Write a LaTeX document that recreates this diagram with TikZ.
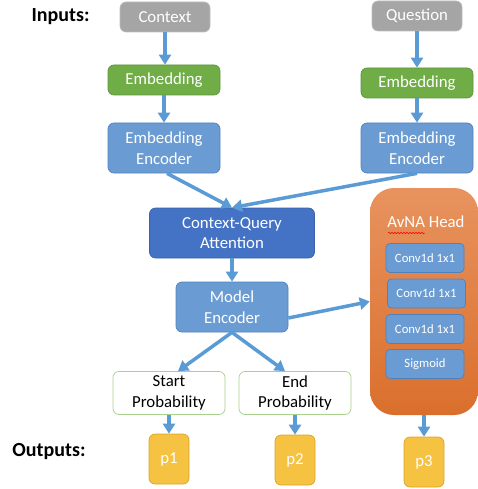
\documentclass[tikz,border=0pt]{standalone}
\usepackage{fontspec}
\setmainfont{Carlito}
\usetikzlibrary{arrows.meta,decorations.pathmorphing}
\definecolor{cgray}{HTML}{A5A5A5}
\definecolor{cgrayb}{HTML}{BDBDBD}
\definecolor{cgreen}{HTML}{70AD47}
\definecolor{cgreenb}{HTML}{5E9440}
\definecolor{clgreen}{HTML}{A9D18E}
\definecolor{cblue}{HTML}{6A9CD3}
\definecolor{cblueb}{HTML}{4F81BD}
\definecolor{cdblue}{HTML}{4472C4}
\definecolor{cdblueb}{HTML}{3A62AA}
\definecolor{cyel}{HTML}{F5C242}
\definecolor{cyelb}{HTML}{D9A52A}
\definecolor{carrow}{HTML}{5B9BD5}
\definecolor{otop}{HTML}{E8935F}
\definecolor{obot}{HTML}{DA6F2C}
\begin{document}
\begin{tikzpicture}[x=1pt,y=-1pt,
  box/.style={rounded corners=6pt, inner sep=0pt, align=center, text=white,
    font=\fontsize{16.8}{20.5}\selectfont, line width=0.7pt},
  graybox/.style={box, fill=cgray, draw=cgrayb, minimum width=90pt, minimum height=30pt},
  greenbox/.style={box, fill=cgreen, draw=cgreenb, minimum width=112pt, minimum height=30pt},
  encbox/.style={box, fill=cblue, draw=cblueb, minimum width=112pt, minimum height=50pt},
  probbox/.style={box, fill=white, draw=clgreen, text=black, minimum width=112pt, minimum height=43pt},
  outbox/.style={box, fill=cyel, draw=cyelb, minimum width=40pt, minimum height=50pt},
  convbox/.style={box, fill=cblue, draw=cblueb, rounded corners=4pt, minimum width=78pt, minimum height=29pt,
    font=\fontsize{12.7}{15}\selectfont},
  lbl/.style={font=\fontsize{20}{23}\selectfont\bfseries, inner sep=0pt},
  arr/.style={draw=carrow, line width=3.5pt, -{Triangle[width=12pt,length=10pt]}}
]
\useasboundingbox (0,0) rectangle (477,489);

% labels
\node[lbl] (inp) at (60.5,17) {Inputs:};
\node[lbl] (outp) at (49,452) {Outputs:};

% left column
\node[graybox] (ctx) at (165,17) {Context};
\node[greenbox] (emb1) at (164,80) {Embedding};
\node[encbox] (enc1) at (164,148) {Embedding\\Encoder};

% right column
\node[graybox] (qst) at (417,16) {Question};
\node[greenbox] (emb2) at (417,83) {Embedding};
\node[encbox] (enc2) at (417,148) {Embedding\\Encoder};

% middle
\node[box, fill=cdblue, draw=cdblueb, minimum width=165pt, minimum height=50pt] (cqa) at (232,233) {Context-Query\\Attention};
\node[encbox] (me) at (232,307) {Model\\Encoder};

\node[probbox] (sp) at (169,393) {Start\\Probability};
\node[probbox] (ep) at (295,393) {End\\Probability};

\node[outbox] (p1) at (169,459) {p1};
\node[outbox] (p2) at (295,460) {p2};
\node[outbox] (p3) at (424,462) {p3};

% AvNA head
\node[rounded corners=24pt, top color=otop, bottom color=obot, minimum width=108pt, minimum height=227pt, inner sep=0pt] (avna) at (424,301.5) {};
\node[text=white, font=\fontsize{16.8}{19}\selectfont, inner sep=0pt] (avt) at (426,222) {AvNA Head};
\coordinate (ulA) at (388,233);
\coordinate (ulB) at (425,233);
\draw[red, line width=0.5pt, decorate, decoration={snake, amplitude=0.8pt, segment length=3pt}] (ulA) -- (ulB);

\node[convbox] (c1) at (425,258) {Conv1d 1x1};
\node[convbox] (c2) at (426.5,293.5) {Conv1d 1x1};
\node[convbox] (c3) at (425,329) {Conv1d 1x1};
\node[convbox] (sg) at (425,364) {Sigmoid};

% arrows
\draw[arr] (ctx.south) -- (emb1.north -| ctx.south);
\draw[arr] (emb1.south) -- (enc1.north);
\draw[arr] (qst.south) -- (emb2.north);
\draw[arr] (emb2.south) -- (enc2.north);
\draw[arr] ([xshift=3pt]enc1.south) -- (cqa.north);
\draw[arr] (enc2.south) -- (cqa.north);
\draw[arr] (cqa.south) -- (me.north);
\draw[arr] ([yshift=-11pt]me.east) -- (avna.west);
\draw[arr] (me.south) -- ([xshift=9pt]sp.north);
\draw[arr] (me.south) -- ([xshift=-10pt]ep.north);
\draw[arr] (sp.south) -- (p1.north);
\draw[arr] (ep.south) -- (p2.north);
\draw[arr] (avna.south) -- (p3.north);
\end{tikzpicture}
\end{document}
